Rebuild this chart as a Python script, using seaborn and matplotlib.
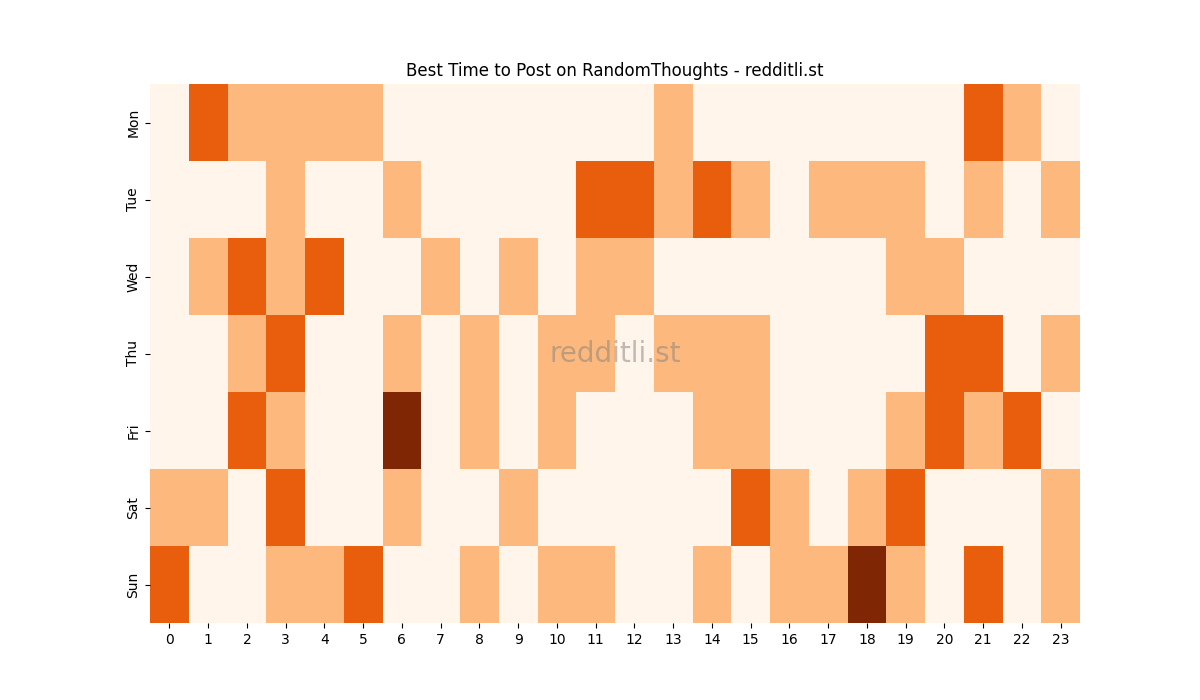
import matplotlib
matplotlib.use("Agg")
import matplotlib.pyplot as plt
import pandas as pd
import seaborn as sns

days = ["Mon", "Tue", "Wed", "Thu", "Fri", "Sat", "Sun"]
hours = list(range(24))

mon = [0, 2, 1, 1, 1, 1, 0, 0, 0, 0, 0, 0, 0, 1, 0, 0, 0, 0, 0, 0, 0, 2, 1, 0]
tue = [0, 0, 0, 1, 0, 0, 1, 0, 0, 0, 0, 2, 2, 1, 2, 1, 0, 1, 1, 1, 0, 1, 0, 1]
wed = [0, 1, 2, 1, 2, 0, 0, 1, 0, 1, 0, 1, 1, 0, 0, 0, 0, 0, 0, 1, 1, 0, 0, 0]
thu = [0, 0, 1, 2, 0, 0, 1, 0, 1, 0, 1, 1, 0, 1, 1, 1, 0, 0, 0, 0, 2, 2, 0, 1]
fri = [0, 0, 2, 1, 0, 0, 3, 0, 1, 0, 1, 0, 0, 0, 1, 1, 0, 0, 0, 1, 2, 1, 2, 0]
sat = [1, 1, 0, 2, 0, 0, 1, 0, 0, 1, 0, 0, 0, 0, 0, 2, 1, 0, 1, 2, 0, 0, 0, 1]
sun = [2, 0, 0, 1, 1, 2, 0, 0, 1, 0, 1, 1, 0, 0, 1, 0, 1, 1, 3, 1, 0, 2, 0, 1]

df = pd.DataFrame([mon, tue, wed, thu, fri, sat, sun], index=days, columns=hours)

fig, ax = plt.subplots(figsize=(12, 7), dpi=100)
sns.heatmap(df, cmap="Oranges", vmin=0, vmax=3, cbar=False, ax=ax)
ax.set_title("Best Time to Post on RandomThoughts - redditli.st")
ax.text(0.5, 0.5, "redditli.st", transform=ax.transAxes, ha="center", va="center",
        fontsize=20, color="gray", alpha=0.5)

fig.savefig("out.png")
